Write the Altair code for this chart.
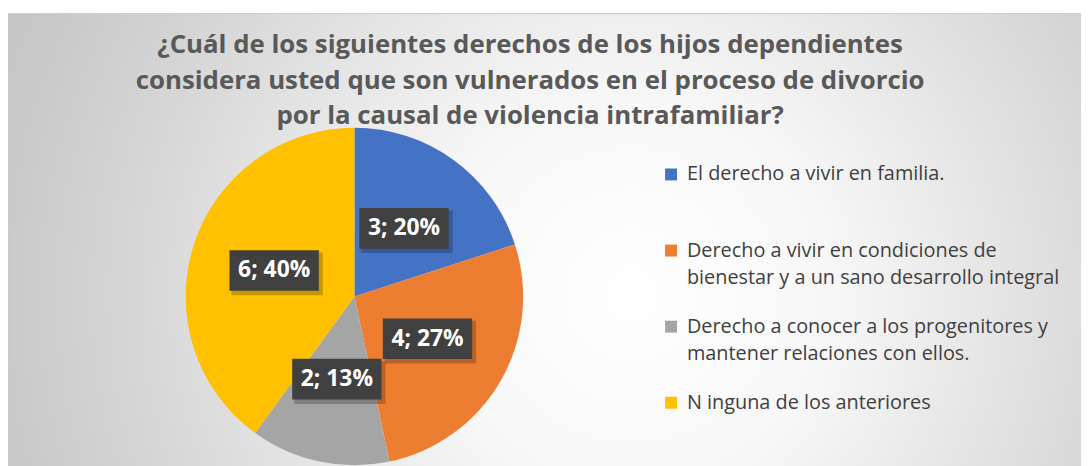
import altair as alt
import pandas as pd

# ---- data ----
categories = [
    "El derecho a vivir en familia.",
    "Derecho a vivir en condiciones de bienestar y a un sano desarrollo integral",
    "Derecho a conocer a los progenitores y mantener relaciones con ellos.",
    "N inguna de los anteriores",
]
legend_text = [
    "El derecho a vivir en familia.",
    "Derecho a vivir en condiciones de\nbienestar y a un sano desarrollo integral",
    "\u00a0\u00a0Derecho a conocer a los progenitores y\nmantener relaciones con ellos.",
    "N inguna de los anteriores",
]
values = [3, 4, 2, 6]
percents = ["20%", "27%", "13%", "40%"]
colors = ["#4472C4", "#ED7D31", "#A5A5A5", "#FFC000"]
title_lines = [
    "¿Cuál de los siguientes derechos de los hijos dependientes",
    "considera usted que son vulnerados en el proceso de divorcio",
    "por la causal de violencia intrafamiliar?",
]

df = pd.DataFrame({
    "cat": categories,
    "legend": legend_text,
    "value": values,
    "order": list(range(len(values))),
    "label": [f"{v}; {p}" for v, p in zip(values, percents)],
})
title_df = pd.DataFrame({"line": title_lines, "i": list(range(len(title_lines)))})

W, H = 1081, 458
CX, CY, R = 349, 289, 170
LR = 85
FONT = "Open Sans"

color_scale = alt.Scale(domain=categories, range=colors)

bg = alt.Chart(pd.DataFrame({"a": [0]})).mark_rect(
    fill={
        "gradient": "radial",
        "x1": 0.58, "y1": 0.55, "x2": 0.58, "y2": 0.55,
        "r1": 0, "r2": 0.62,
        "stops": [
            {"offset": 0, "color": "#ffffff"},
            {"offset": 0.3, "color": "#f7f7f7"},
            {"offset": 0.75, "color": "#d6d6d6"},
            {"offset": 1, "color": "#c6c6c6"},
        ],
    },
    stroke="#c8c8c8", strokeWidth=1,
).encode(x=alt.value(0), x2=alt.value(W + 2), y=alt.value(4), y2=alt.value(H + 4))

title = alt.Chart(title_df).mark_text(
    font=FONT, fontSize=26, fontWeight="bold", color="#595959", baseline="middle"
).encode(
    x=alt.value(526),
    y=alt.Y("i:O", scale=alt.Scale(type="point", range=[36, 107], padding=0), axis=None),
    text="line:N",
)

pie = alt.Chart(df).mark_arc(outerRadius=R).encode(
    theta=alt.Theta("value:Q", stack=True),
    color=alt.Color("cat:N", scale=color_scale, legend=None),
    order=alt.Order("order:Q"),
    x=alt.value(CX), y=alt.value(CY),
)

lab = alt.Chart(df).transform_window(
    cum="sum(value)", sort=[alt.SortField("order")]
).transform_joinaggregate(total="sum(value)").transform_calculate(
    ang="(datum.cum - datum.value / 2) / datum.total * 2 * PI",
    lx=f"{CX} + {LR} * sin(datum.ang)",
    ly=f"{CY} - {LR} * cos(datum.ang)",
    bx1="datum.lx - 45", bx2="datum.lx + 45",
    by1="datum.ly - 20.5", by2="datum.ly + 20.5",
    sx1="datum.lx - 43", sx2="datum.lx + 49",
    sy1="datum.ly - 18", sy2="datum.ly + 25",
)

shadow = lab.mark_rect(color="#000000", opacity=0.22).encode(
    x=alt.X("sx1:Q", scale=None, axis=None), x2="sx2:Q",
    y=alt.Y("sy1:Q", scale=None, axis=None), y2="sy2:Q",
)
box = lab.mark_rect(color="#404040").encode(
    x=alt.X("bx1:Q", scale=None, axis=None), x2="bx2:Q",
    y=alt.Y("by1:Q", scale=None, axis=None), y2="by2:Q",
)
ltext = lab.mark_text(
    font=FONT, fontSize=23, fontWeight="bold", color="white", baseline="middle"
).encode(
    x=alt.X("lx:Q", scale=None, axis=None),
    y=alt.Y("ly:Q", scale=None, axis=None),
    text="label:N",
)

leg_y = alt.Y("cat:N", sort=categories,
              scale=alt.Scale(type="point", domain=categories, range=[166, 396], padding=0),
              axis=None)
leg_sq = alt.Chart(df).mark_square(size=144, opacity=1).encode(
    x=alt.value(668), y=leg_y,
    color=alt.Color("cat:N", scale=color_scale, legend=None),
)
leg_tx = alt.Chart(df).mark_text(
    font=FONT, fontSize=20, color="#404040", align="left", baseline="middle",
    lineBreak="\n", lineHeight=28,
).encode(x=alt.value(684), y=leg_y, text="legend:N")

chart = alt.layer(bg, title, pie, shadow, box, ltext, leg_sq, leg_tx).resolve_scale(
    x="independent", y="independent"
).properties(
    width=W, height=H, autosize="none", padding=0, background="white"
).configure_view(stroke=None)

chart.save("out.html", embed_options={"renderer": "svg", "actions": False})
